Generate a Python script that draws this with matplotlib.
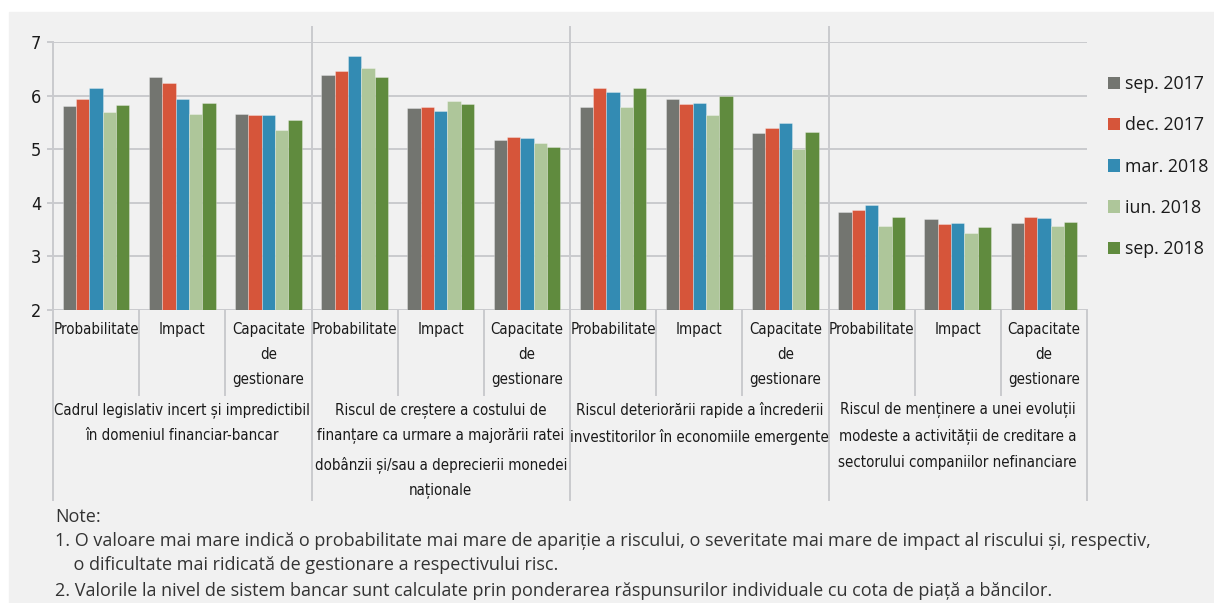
import matplotlib.pyplot as plt
import matplotlib as mpl
from matplotlib.patches import Patch, Rectangle
from matplotlib.transforms import blended_transform_factory
import numpy as np

# survey rounds (bar series)
periods = ['sep. 2017', 'dec. 2017', 'mar. 2018', 'iun. 2018', 'sep. 2018']
colors = ['#737570', '#d6553a', '#338bb3', '#aec69a', '#608b3e']

# sub-categories under every risk
dims = ['Probabilitate', 'Impact', 'Capacitate\nde\ngestionare']
risks = ['Cadrul legislativ incert și impredictibil\nîn domeniul financiar-bancar',
         'Riscul de creștere a costului de\nfinanțare ca urmare a majorării ratei\n'
         'dobânzii și/sau a deprecierii monedei\nnaționale',
         'Riscul deteriorării rapide a încrederii\ninvestitorilor în economiile emergente',
         'Riscul de menținere a unei evoluții\nmodeste a activității de creditare a\n'
         'sectorului companiilor nefinanciare']

# scores per period, 12 values each (4 risks x 3 dims)
sep17 = [5.81, 6.35, 5.66, 6.38, 5.77, 5.18, 5.79, 5.93, 5.31, 3.82, 3.70, 3.62]
dec17 = [5.93, 6.24, 5.63, 6.45, 5.78, 5.22, 6.15, 5.84, 5.39, 3.87, 3.60, 3.73]
mar18 = [6.14, 5.93, 5.63, 6.73, 5.72, 5.20, 6.06, 5.87, 5.48, 3.96, 3.62, 3.72]
iun18 = [5.70, 5.66, 5.35, 6.51, 5.90, 5.12, 5.79, 5.63, 5.00, 3.56, 3.44, 3.56]
sep18 = [5.82, 5.86, 5.54, 6.35, 5.84, 5.04, 6.15, 6.00, 5.33, 3.74, 3.54, 3.65]
series = [sep17, dec17, mar18, iun18, sep18]

notes = ['Note:',
         '1. O valoare mai mare indică o probabilitate mai mare de apariție a riscului, '
         'o severitate mai mare de impact al riscului și, respectiv,',
         '    o dificultate mai ridicată de gestionare a respectivului risc.',
         '2. Valorile la nivel de sistem bancar sunt calculate prin ponderarea '
         'răspunsurilor individuale cu cota de piață a băncilor.']

W, H = 1214, 603
bg = '#f1f1f1'
grid_c = '#c9cace'
txt_c = '#1a1a1a'
regular = ['Open Sans', 'DejaVu Sans']
narrow = dict(family='DejaVu Sans', stretch='condensed')

fig = plt.figure(figsize=(W / 100, H / 100), dpi=100, facecolor='white')
fig.patches.append(Rectangle((9 / W, 0), 1, (H - 12) / H, transform=fig.transFigure,
                             color=bg, zorder=-10))

# plot box: x 53..1087 px, y 42..310 px
x0, x1, ytop, ybot = 53, 1087, 42, 310
ax = fig.add_axes([x0 / W, (H - ybot) / H, (x1 - x0) / W, (ybot - ytop) / H])
ax.set_facecolor('none')


def ay(ypx):
    # pixel row -> axes fraction
    return (ybot - ypx) / (ybot - ytop)


n = len(sep17)
x = np.arange(n)
bw = 0.155
for i, (vals, c, lab) in enumerate(zip(series, colors, periods)):
    ax.bar(x + (i - 2) * bw, np.array(vals) - 2, bottom=2, width=bw, color=c,
           edgecolor=(1, 1, 1, 0.35), linewidth=0.6, label=lab, zorder=3)

ax.set_xlim(-0.5, n - 0.5)
ax.set_ylim(2, 7)
ax.set_yticks(range(2, 8))
ax.set_xticks([])
for s in ax.spines.values():
    s.set_visible(False)
ax.tick_params(axis='y', length=4.3, width=1.4, color=grid_c, pad=4,
               labelsize=13, labelcolor=txt_c)
for t in ax.get_yticklabels():
    t.set_family('DejaVu Sans')
    t.set_stretch('condensed')
for v in range(2, 8):
    ax.axhline(v, color=grid_c, lw=1.4, zorder=1)

tr = blended_transform_factory(ax.transData, ax.transAxes)
# group separators and frame
for gx in [-0.5, 2.5, 5.5, 8.5, 11.5]:
    top = 1.0 if gx == -0.5 else (0.0 if gx == 11.5 else ay(27))
    ax.plot([gx, gx], [top, ay(500)], transform=tr, color=grid_c, lw=1.4,
            clip_on=False, zorder=1)
for k in range(4):
    for sx in [3 * k + 0.5, 3 * k + 1.5]:
        ax.plot([sx, sx], [0, ay(395)], transform=tr, color=grid_c, lw=1.4,
                clip_on=False, zorder=1)

# category labels
for i in range(n):
    ax.text(i, ay(322), dims[i % 3], transform=tr, ha='center', va='top',
            fontsize=10.8, linespacing=1.82, color=txt_c, **narrow)
for k, r in enumerate(risks):
    ax.text(3 * k + 1, ay(402), r, transform=tr, ha='center', va='top',
            fontsize=10.8, linespacing=1.88, color=txt_c, **narrow)

# notes
for j, line in enumerate(notes):
    fig.text(55 / W, 1 - [517, 541, 565, 591][j] / H, line, ha='left', va='center',
             fontsize=13, family=regular, color='#333333')

handles = [Patch(facecolor=c, edgecolor='none') for c in colors]
fig.legend(handles, periods, loc='upper left', bbox_to_anchor=(1108 / W, 1 - 75 / H),
           frameon=False, prop={'family': regular, 'size': 12.8},
           handlelength=0.7, handleheight=0.7, handletextpad=0.25,
           labelspacing=1.31, borderpad=0, borderaxespad=0, labelcolor=txt_c)

fig.savefig('out.png', dpi=100, facecolor=fig.get_facecolor())
